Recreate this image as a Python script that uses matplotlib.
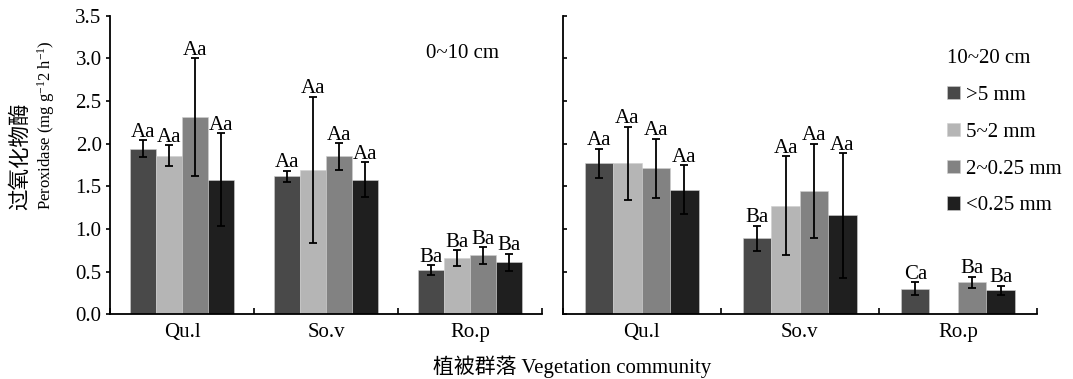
import numpy as np
import matplotlib
matplotlib.use('Agg')
import matplotlib.pyplot as plt

plt.rcParams['font.family'] = ['Liberation Serif', 'Noto Sans CJK SC']
plt.rcParams['mathtext.fontset'] = 'custom'
plt.rcParams['mathtext.rm'] = 'Liberation Serif'
plt.rcParams['mathtext.it'] = 'Liberation Serif:italic'
plt.rcParams['font.size'] = 15

communities = ['Qu.l', 'So.v', 'Ro.p']
sizes = ['>5 mm', '5~2 mm', '2~0.25 mm', '<0.25 mm']
colors = ['#494949', '#b5b5b5', '#828282', '#1f1f1f']

# 0~10 cm, one list per aggregate size (Qu.l, So.v, Ro.p)
top_mean = [[1.94, 1.62, 0.52],
            [1.86, 1.69, 0.66],
            [2.31, 1.85, 0.69],
            [1.58, 1.58, 0.61]]
top_err = [[0.10, 0.065, 0.06],
           [0.12, 0.86, 0.09],
           [0.69, 0.16, 0.10],
           [0.54, 0.20, 0.10]]
top_lab = [['Aa', 'Aa', 'Ba'],
           ['Aa', 'Aa', 'Ba'],
           ['Aa', 'Aa', 'Ba'],
           ['Aa', 'Aa', 'Ba']]

# 10~20 cm
sub_mean = [[1.77, 0.89, 0.30],
            [1.77, 1.27, np.nan],
            [1.71, 1.45, 0.375],
            [1.46, 1.16, 0.28]]
sub_err = [[0.17, 0.15, 0.075],
           [0.43, 0.58, np.nan],
           [0.35, 0.55, 0.065],
           [0.29, 0.73, 0.055]]
sub_lab = [['Aa', 'Ba', 'Ca'],
           ['Aa', 'Aa', ''],
           ['Aa', 'Aa', 'Ba'],
           ['Aa', 'Aa', 'Ba']]

fig = plt.figure(figsize=(10.73, 3.79), dpi=100)
ax1 = fig.add_axes([110 / 1073, 64.7 / 379, 432 / 1073, 298.6 / 379])
ax2 = fig.add_axes([562.7 / 1073, 64.7 / 379, 474.3 / 1073, 298.6 / 379])

x = np.arange(len(communities))
w = 0.18
offsets = [-1.5 * w, -0.5 * w, 0.5 * w, 1.5 * w]


def draw(ax, means, errs, labs):
    bars = []
    for i in range(4):
        b = ax.bar(x + offsets[i], means[i], w, color=colors[i], edgecolor='#cfcfcf',
                   linewidth=0.4, label=sizes[i])
        bars.append(b)
        ax.errorbar(x + offsets[i], means[i], yerr=errs[i], fmt='none', ecolor='black',
                    elinewidth=1.3, capsize=3.2, capthick=1.3)
        for j in range(len(communities)):
            if labs[i][j]:
                ax.text(x[j] + offsets[i], means[i][j] + errs[i][j] - 0.02, labs[i][j],
                        ha='center', va='bottom', fontsize=15)
    ax.set_xlim(-0.5, 2.5)
    ax.set_ylim(0, 3.5)
    ax.set_yticks(np.arange(0, 3.51, 0.5))
    ax.set_xticks(x)
    ax.set_xticklabels(communities)
    ax.set_xticks([-0.5, 0.5, 1.5, 2.5], minor=True)
    ax.tick_params(axis='x', which='major', length=0, pad=6)
    ax.tick_params(axis='x', which='minor', direction='in', length=4.5, width=1.2)
    for s in ['top', 'right']:
        ax.spines[s].set_visible(False)
    for s in ['left', 'bottom']:
        ax.spines[s].set_linewidth(1.3)
    return bars


draw(ax1, top_mean, top_err, top_lab)
ax1.set_yticklabels(['%.1f' % v for v in np.arange(0, 3.51, 0.5)])
ax1.tick_params(axis='y', direction='out', length=3, width=1.2, pad=3)
ax1.text(462 / 1073, 1 - 54 / 379, '0~10 cm', transform=fig.transFigure,
         ha='center', va='center', fontsize=15)

bars = draw(ax2, sub_mean, sub_err, sub_lab)
ax2.tick_params(axis='y', direction='in', length=3, width=1.2, labelleft=False)
leg = ax2.legend(handles=bars, loc='upper left', bbox_to_anchor=(937 / 1073, 1 - 39 / 379),
                 bbox_transform=fig.transFigure, frameon=False, title='10~20 cm',
                 title_fontsize=15, fontsize=15, handlelength=0.6, handleheight=0.6,
                 handletextpad=0.3, labelspacing=0.85, borderpad=0, alignment='left')

fig.text(20 / 1073, 1 - 210 / 379, '过氧化物酶', rotation=90, ha='center', va='bottom',
         fontsize=15.5, family=['Noto Sans CJK SC'])
fig.text(46 / 1073, 1 - 210 / 379, 'Peroxidase (mg g$^{-1}$2 h$^{-1}$)', rotation=90,
         ha='center', va='bottom', fontsize=12)
fig.text(572 / 1073, 1 - 367 / 379, '植被群落 Vegetation community', ha='center',
         va='center', fontsize=15)

fig.savefig('out.png', dpi=100)
